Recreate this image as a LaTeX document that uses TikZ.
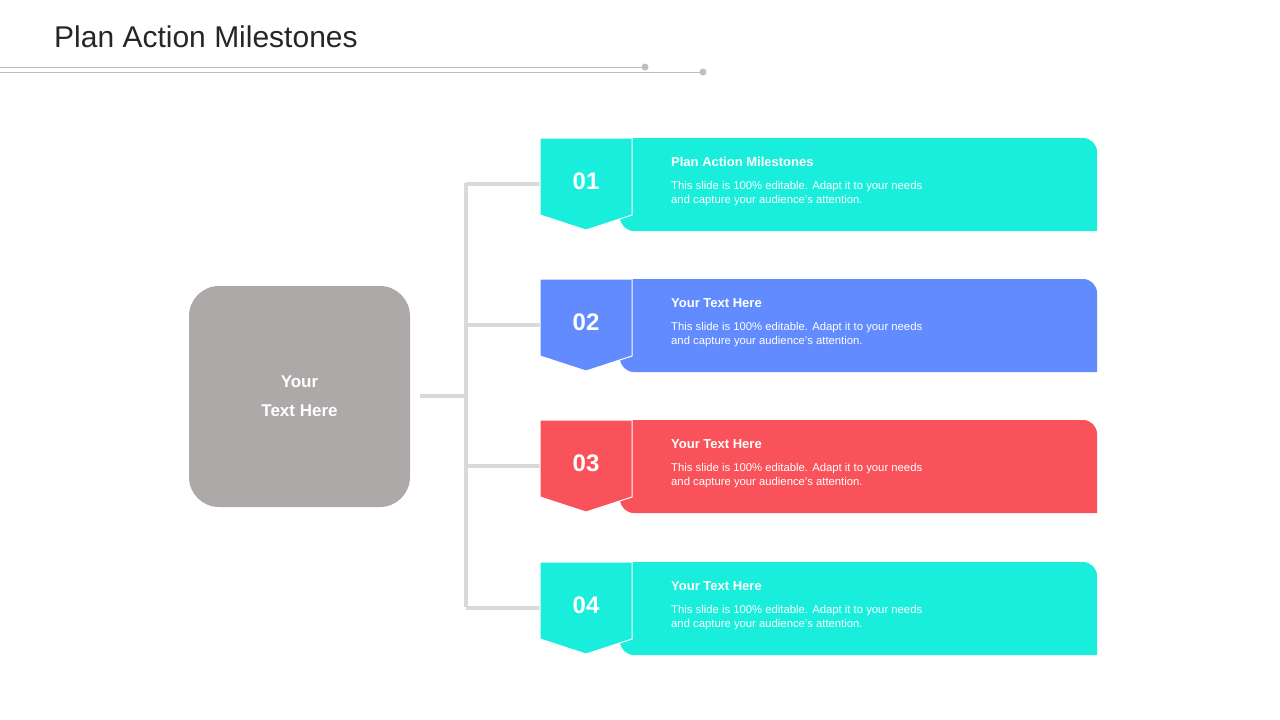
\documentclass[tikz,border=0pt]{standalone}
\usepackage{fontspec}
\setmainfont{Liberation Sans}
\definecolor{cy}{HTML}{19EDDB}
\definecolor{bl}{HTML}{618BFF}
\definecolor{rd}{HTML}{FA525A}
\definecolor{gb}{HTML}{ADA9A8}
\definecolor{ln}{HTML}{D9D9D9}
\definecolor{tl}{HTML}{BFBFBF}
\begin{document}
\begin{tikzpicture}[x=1pt,y=-1pt,
  conn/.style={draw=ln,line width=4pt},
  hd/.style={anchor=west,text=white,font=\bfseries\fontsize{13}{15}\selectfont,inner sep=0},
  bd/.style={anchor=north west,text=white,align=left,font=\fontsize{11.3}{14.5}\selectfont,inner sep=0},
  num/.style={text=white,font=\bfseries\fontsize{24}{28}\selectfont}]
\useasboundingbox (0,0) rectangle (1280,720);
\node[anchor=west,text=black!85,font=\fontsize{30}{36}\selectfont,inner sep=0] (title) at (54,37) {Plan Action Milestones};
\draw[tl,line width=1pt] (0,67) -- (645,67);
\fill[tl] (645,67) circle (3.5);
\draw[tl,line width=1pt] (0,72) -- (703,72);
\fill[tl] (703,72) circle (3.5);
\fill[gb,rounded corners=30] (189,286) rectangle (410,507);
\node[text=white,font=\bfseries\fontsize{17}{29}\selectfont,align=center] (main) at (299.5,396) {Your\\Text Here};
\coordinate (m) at (420,396);
\coordinate (j) at (466,396);
\draw[conn] (m) -- (j);
\draw[conn] (466,183) -- (466,607);
\foreach \c/\col/\n/\h [count=\i] in {184/cy/01/Plan Action Milestones,325/bl/02/Your Text Here,466/rd/03/Your Text Here,608/cy/04/Your Text Here}{
  \coordinate (b\i) at (466,\c);
  \coordinate (e\i) at (540,\c);
  \draw[conn] (b\i) -- (e\i);
  \fill[\col] (620,\c-46) -- (1097-14,\c-46) arc[start angle=270,end angle=360,radius=14] -- (1097,\c+47) -- (634,\c+47) arc[start angle=90,end angle=180,radius=14] -- cycle;
  \filldraw[\col,draw=white,line width=1pt] (540,\c-46) -- (632,\c-46) -- (632,\c+31) -- (586,\c+46) -- (540,\c+31) -- cycle;
  \node[num] (n\i) at (586,\c-3) {\n};
  \node[hd] (h\i) at (671,\c-22) {\h};
  \node[bd] (t\i) at (671,\c-3) {This slide is 100\% editable. Adapt it to your needs\\and capture your audience's attention.};
}
\end{tikzpicture}
\end{document}
